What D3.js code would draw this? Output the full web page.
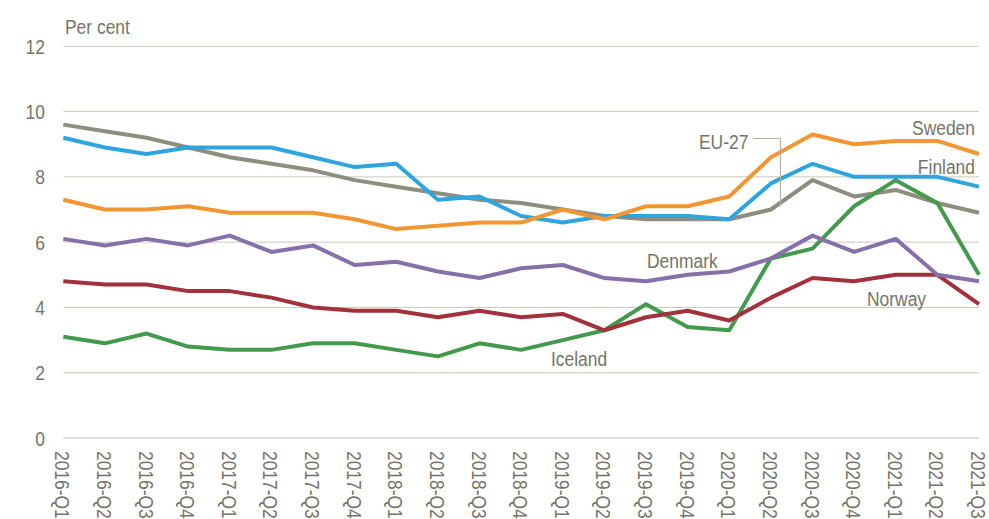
<!DOCTYPE html>
<html>
<head>
<meta charset="utf-8">
<script src="https://cdn.jsdelivr.net/npm/d3@7"></script>
<style>
  body { margin: 0; background: #fff; }
  svg text { font-family: "Liberation Sans", Arial, sans-serif; fill: #75746a; font-size: 21px; }
</style>
</head>
<body>
<svg width="989" height="519"></svg>
<script>
// quarters on the x axis
var quarters = ["2016-Q1","2016-Q2","2016-Q3","2016-Q4","2017-Q1","2017-Q2","2017-Q3","2017-Q4",
  "2018-Q1","2018-Q2","2018-Q3","2018-Q4","2019-Q1","2019-Q2","2019-Q3","2019-Q4",
  "2020-Q1","2020-Q2","2020-Q3","2020-Q4","2021-Q1","2021-Q2","2021-Q3"];
var yTicks = [0, 2, 4, 6, 8, 10, 12];

var sweden  = [7.3,7.0,7.0,7.1,6.9,6.9,6.9,6.7,6.4,6.5,6.6,6.6,7.0,6.7,7.1,7.1,7.4,8.6,9.3,9.0,9.1,9.1,8.7];
var finland = [9.2,8.9,8.7,8.9,8.9,8.9,8.6,8.3,8.4,7.3,7.4,6.8,6.6,6.8,6.8,6.8,6.7,7.8,8.4,8.0,8.0,8.0,7.7];
var eu27    = [9.6,9.4,9.2,8.9,8.6,8.4,8.2,7.9,7.7,7.5,7.3,7.2,7.0,6.8,6.7,6.7,6.7,7.0,7.9,7.4,7.6,7.2,6.9];
var denmark = [6.1,5.9,6.1,5.9,6.2,5.7,5.9,5.3,5.4,5.1,4.9,5.2,5.3,4.9,4.8,5.0,5.1,5.5,6.2,5.7,6.1,5.0,4.8];
var norway  = [4.8,4.7,4.7,4.5,4.5,4.3,4.0,3.9,3.9,3.7,3.9,3.7,3.8,3.3,3.7,3.9,3.6,4.3,4.9,4.8,5.0,5.0,4.1];
var iceland = [3.1,2.9,3.2,2.8,2.7,2.7,2.9,2.9,2.7,2.5,2.9,2.7,3.0,3.3,4.1,3.4,3.3,5.5,5.8,7.1,7.9,7.2,5.0];

var series = [
  {name: "EU-27",   values: eu27,    color: "#8f8d80"},
  {name: "Iceland", values: iceland, color: "#439a4c"},
  {name: "Norway",  values: norway,  color: "#a3313b"},
  {name: "Denmark", values: denmark, color: "#8670a9"},
  {name: "Finland", values: finland, color: "#2ea5de"},
  {name: "Sweden",  values: sweden,  color: "#f29634"}
];

var svg = d3.select("svg");
var plotLeft = 63.3, plotRight = 979, plotTop = 46.3, plotBottom = 438;
var narrow = 0.83; // squeeze text to look like a narrow font

var x = d3.scalePoint().domain(quarters).range([plotLeft, plotRight]);
var y = d3.scaleLinear().domain([0, 12]).range([plotBottom, plotTop]);

// gridlines
svg.append("g").selectAll("line")
  .data(yTicks)
  .enter().append("line")
  .attr("x1", plotLeft).attr("x2", plotRight)
  .attr("y1", function(d) { return y(d); })
  .attr("y2", function(d) { return y(d); })
  .attr("stroke", function(d) { return d === 0 ? "#d3d2c8" : "#c9c8bc"; })
  .attr("stroke-width", function(d) { return d === 0 ? 1.5 : 1; });

// y labels
svg.append("g").selectAll("text")
  .data(yTicks)
  .enter().append("text")
  .attr("transform", function(d) { return "translate(45," + (y(d) + 7.5) + ") scale(" + narrow + ",1)"; })
  .attr("text-anchor", "end")
  .text(function(d) { return d; });

svg.append("text")
  .attr("transform", "translate(65,33.5) scale(" + narrow + ",1)")
  .text("Per cent");

// x labels, rotated
svg.append("g").selectAll("text")
  .data(quarters)
  .enter().append("text")
  .attr("transform", function(d) { return "translate(" + (x(d) - 8) + ",451) rotate(90) scale(" + narrow + ",1)"; })
  .attr("text-anchor", "start")
  .text(function(d) { return d; });

var line = d3.line()
  .x(function(d, i) { return x(quarters[i]); })
  .y(function(d) { return y(d); });

svg.append("g").selectAll("path")
  .data(series)
  .enter().append("path")
  .attr("d", function(d) { return line(d.values); })
  .attr("fill", "none")
  .attr("stroke", function(d) { return d.color; })
  .attr("stroke-width", 4)
  .attr("stroke-linejoin", "round");

// EU-27 leader line
svg.append("path")
  .attr("d", "M753,138.5H780.5V" + (y(eu27[17]) - 3))
  .attr("fill", "none")
  .attr("stroke", "#b3b1a6")
  .attr("stroke-width", 1.2);

// series labels
var labels = [
  {text: "Sweden",  x: 975, y: 135, anchor: "end"},
  {text: "Finland", x: 975, y: 174, anchor: "end"},
  {text: "EU-27",   x: 699, y: 149, anchor: "start"},
  {text: "Denmark", x: 647, y: 268, anchor: "start"},
  {text: "Norway",  x: 867, y: 306, anchor: "start"},
  {text: "Iceland", x: 551, y: 366, anchor: "start"}
];
svg.append("g").selectAll("text")
  .data(labels)
  .enter().append("text")
  .attr("transform", function(d) { return "translate(" + d.x + "," + d.y + ") scale(" + narrow + ",1)"; })
  .attr("text-anchor", function(d) { return d.anchor; })
  .text(function(d) { return d.text; });
</script>
</body>
</html>
